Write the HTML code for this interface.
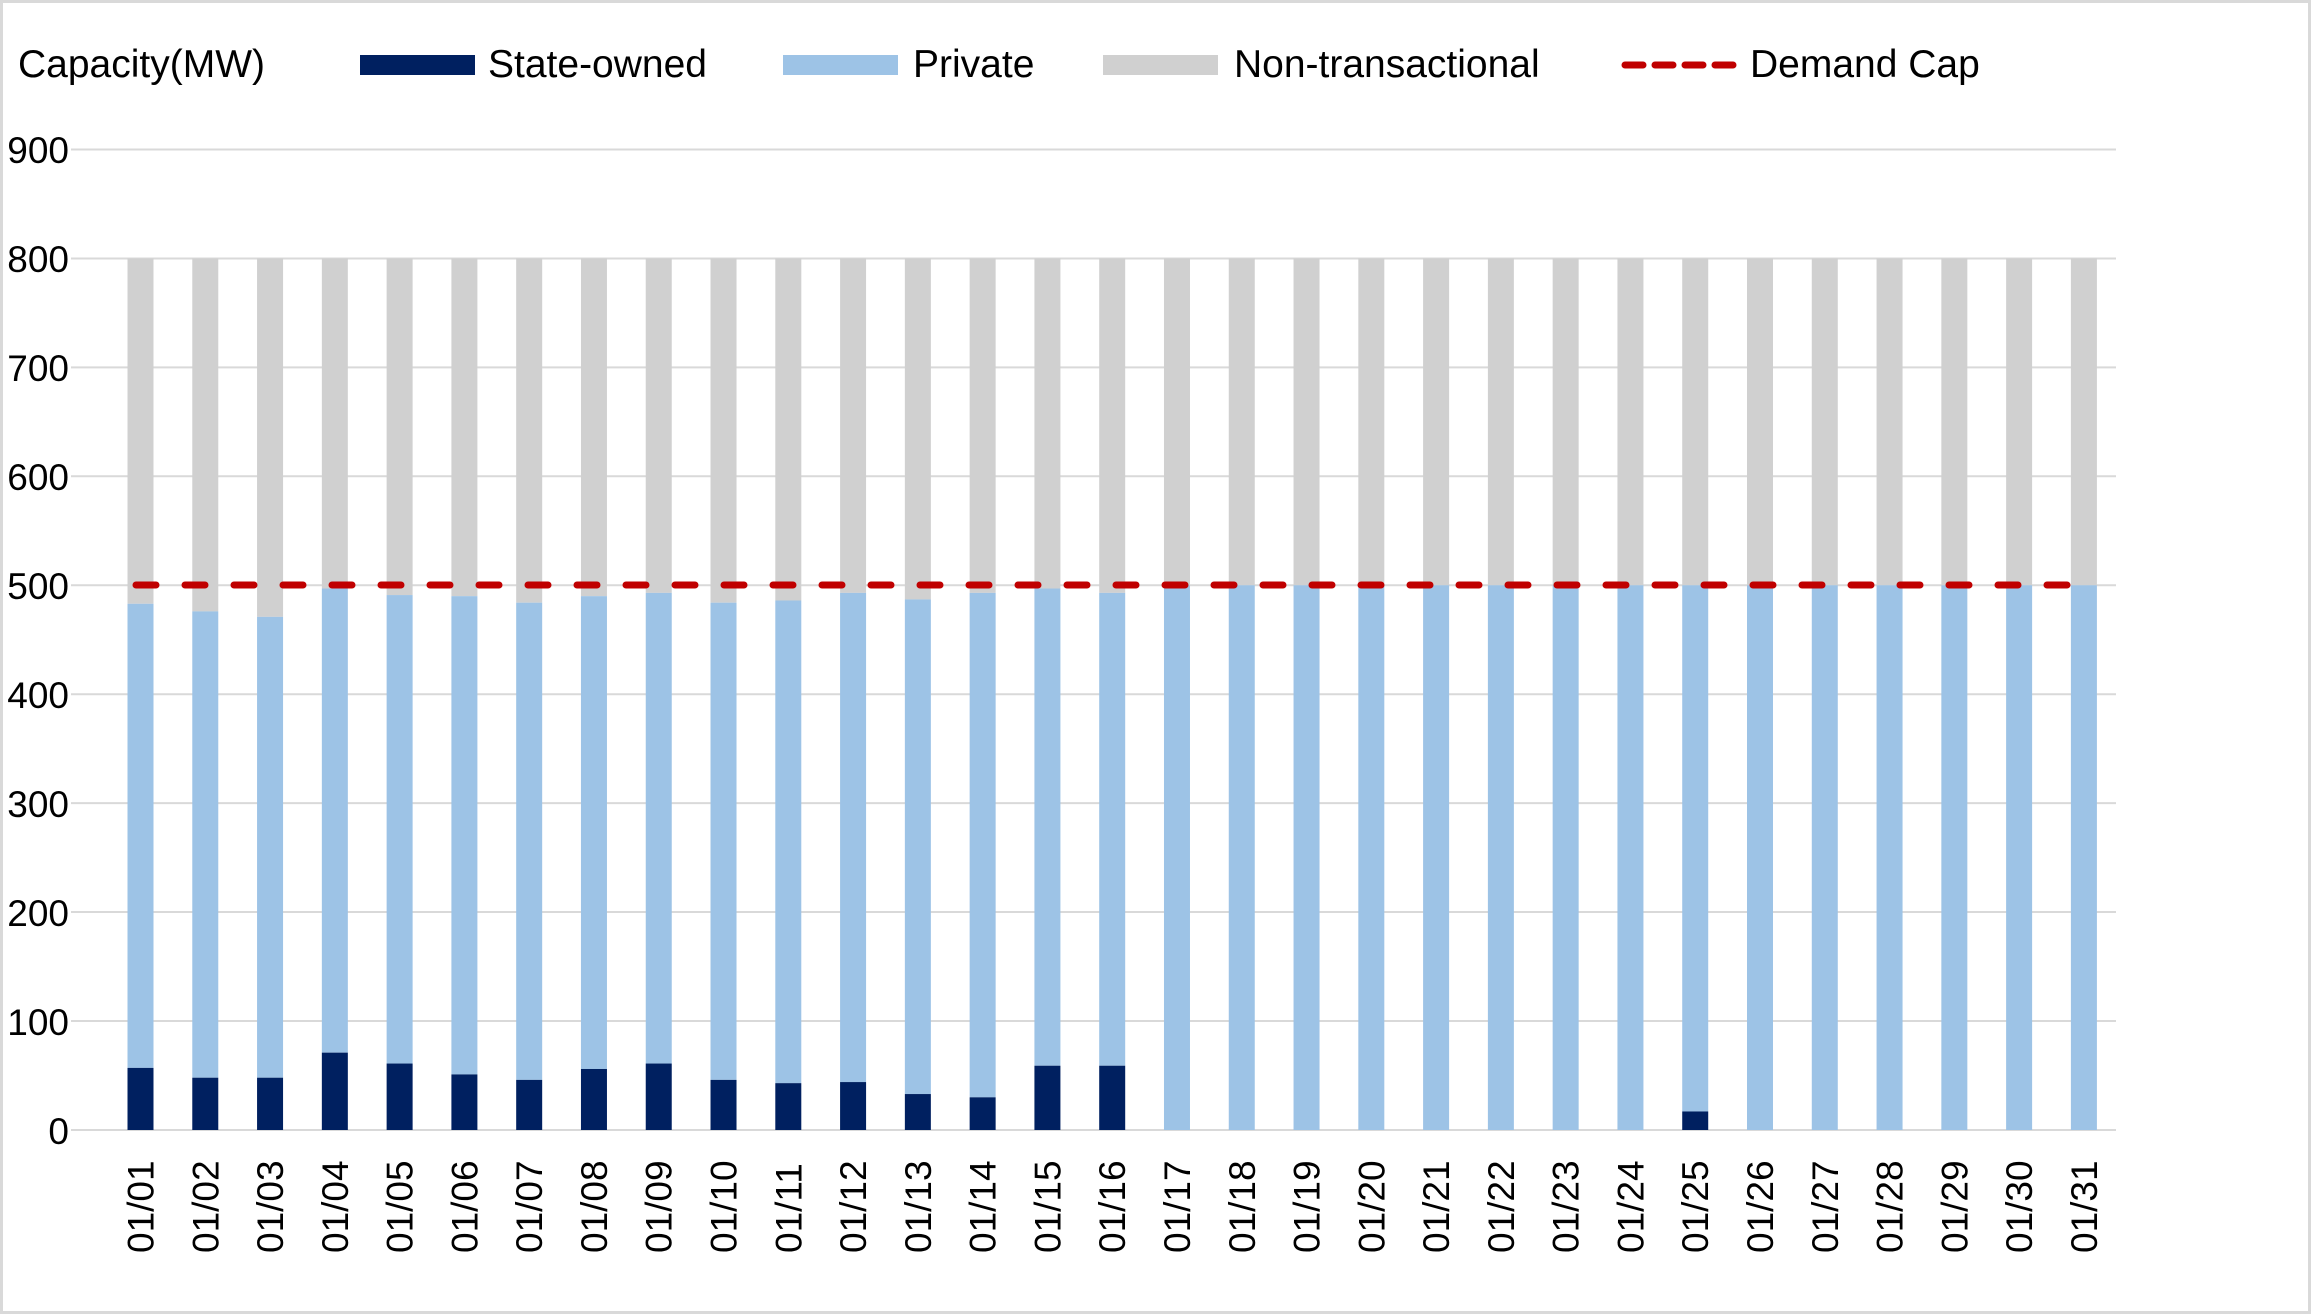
<!DOCTYPE html>
<html><head><meta charset="utf-8"><style>html,body{margin:0;padding:0;background:#fff}svg{display:block}</style></head>
<body>
<svg xmlns="http://www.w3.org/2000/svg" width="2312" height="1315" viewBox="0 0 2312 1315" font-family="'Liberation Sans', sans-serif">
<rect x="1.5" y="1.5" width="2308" height="1311" fill="#fff" stroke="#d9d9d9" stroke-width="3"/>
<g stroke="#d9d9d9" stroke-width="2">
<line x1="71" x2="2116" y1="149.5" y2="149.5"/><line x1="71" x2="2116" y1="258.5" y2="258.5"/>
<line x1="71" x2="2116" y1="367.4" y2="367.4"/><line x1="71" x2="2116" y1="476.3" y2="476.3"/>
<line x1="71" x2="2116" y1="585.2" y2="585.2"/><line x1="71" x2="2116" y1="694.2" y2="694.2"/>
<line x1="71" x2="2116" y1="803.1" y2="803.1"/><line x1="71" x2="2116" y1="912" y2="912"/>
<line x1="71" x2="2116" y1="1021" y2="1021"/><line x1="71" x2="2116" y1="1130" y2="1130"/>
</g>
<g font-size="37" fill="#000" text-anchor="end">
<text x="69" y="163">900</text><text x="69" y="272">800</text><text x="69" y="381">700</text>
<text x="69" y="490">600</text><text x="69" y="599">500</text><text x="69" y="708">400</text>
<text x="69" y="817">300</text><text x="69" y="926">200</text><text x="69" y="1035">100</text>
<text x="69" y="1144">0</text>
</g>
<g id="bars"></g>
<line x1="136" x2="2080" y1="585" y2="585" stroke="#C00000" stroke-width="7" stroke-linecap="round" stroke-dasharray="20 29"/>
<g id="labels" font-size="37" fill="#000"></g>
<g font-size="39" fill="#000">
<text x="18" y="77">Capacity(MW)</text>
<rect x="360" y="55" width="115" height="20" fill="#002060"/>
<text x="488" y="77">State-owned</text>
<rect x="783" y="55" width="115" height="20" fill="#9DC3E6"/>
<text x="913" y="77">Private</text>
<rect x="1103" y="55" width="115" height="20" fill="#D0D0D0"/>
<text x="1234" y="77">Non-transactional</text>
<line x1="1625" x2="1740" y1="65" y2="65" stroke="#C00000" stroke-width="7" stroke-linecap="round" stroke-dasharray="18 12"/>
<text x="1750" y="77">Demand Cap</text>
</g>
<script>
var s=[57,48,48,71,61,51,46,56,61,46,43,44,33,30,59,59,0,0,0,0,0,0,0,0,17,0,0,0,0,0,0];
var t=[483,476,471,497,491,490,484,490,493,484,486,493,487,493,497,493,500,500,500,500,500,500,500,500,500,500,500,500,500,500,500];
var ns="http://www.w3.org/2000/svg",g=document.getElementById("bars"),L=document.getElementById("labels");
function y(v){return 1130-v*1.0895;}
function r(x,a,b,c){var e=document.createElementNS(ns,"rect");e.setAttribute("x",x);e.setAttribute("y",y(b));e.setAttribute("width",26);e.setAttribute("height",y(a)-y(b));e.setAttribute("fill",c);g.appendChild(e);}
for(var i=0;i<31;i++){var cx=140.5+64.78*i,x=cx-13;
r(x,t[i],800,"#D0D0D0");r(x,s[i],t[i],"#9DC3E6");if(s[i]>0)r(x,0,s[i],"#002060");
var tx=document.createElementNS(ns,"text");tx.setAttribute("transform","translate("+(cx+13)+",1253) rotate(-90)");
tx.textContent="01/"+(i<9?"0":"")+(i+1);L.appendChild(tx);}
</script>
</svg>
</body></html>
